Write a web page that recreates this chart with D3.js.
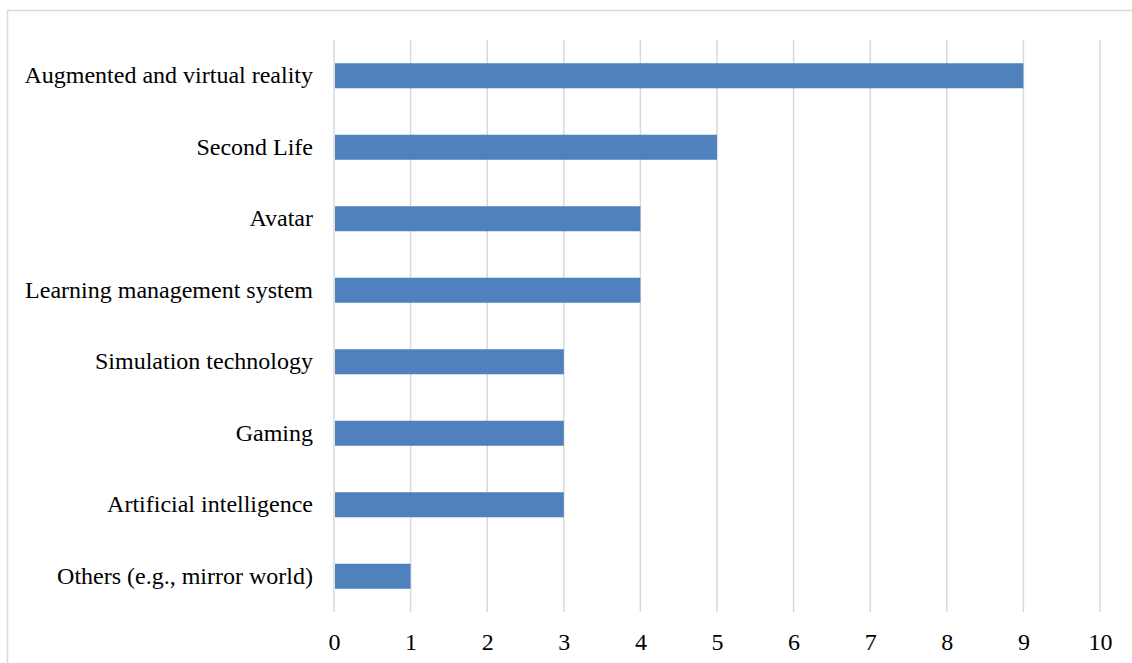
<!DOCTYPE html>
<html>
<head>
<meta charset="utf-8">
<script src="https://cdn.jsdelivr.net/npm/d3@7"></script>
<style>
  body { margin: 0; background: #fff; }
  svg text { fill: #000; }
</style>
</head>
<body>
<svg id="chart"></svg>
<script>
var categories = [
  "Augmented and virtual reality",
  "Second Life",
  "Avatar",
  "Learning management system",
  "Simulation technology",
  "Gaming",
  "Artificial intelligence",
  "Others (e.g., mirror world)"
];
var counts = [9, 5, 4, 4, 3, 3, 3, 1];
var ticks = [0, 1, 2, 3, 4, 5, 6, 7, 8, 9, 10];

var width = 1132;
var height = 663;
var margin = {top: 40, right: 32, bottom: 51, left: 334};
var fontFamily = "'Liberation Serif', 'Times New Roman', serif";
var fontSize = "24px";

var svg = d3.select("#chart")
  .attr("width", width)
  .attr("height", height);

// outer chart border
svg.append("rect")
  .attr("x", 7.5)
  .attr("y", 10.5)
  .attr("width", width + 20)
  .attr("height", height + 20)
  .attr("fill", "none")
  .attr("stroke", "#d9d9d9")
  .attr("stroke-width", 1.5);

var data = categories.map(function(c, i){
  return {name: c, value: counts[i]};
});

var xScale = d3.scaleLinear()
  .domain([0, 10])
  .range([margin.left, width - margin.right]);

var yScale = d3.scaleBand()
  .domain(categories)
  .range([margin.top, height - margin.bottom])
  .paddingInner(0.65)
  .paddingOuter(0.325);

// gridlines
svg.append("g")
  .selectAll("line")
  .data(ticks)
  .enter()
  .append("line")
  .attr("x1", function(d){ return xScale(d); })
  .attr("x2", function(d){ return xScale(d); })
  .attr("y1", margin.top)
  .attr("y2", height - margin.bottom)
  .attr("stroke", "#d9d9d9")
  .attr("stroke-width", 1.5);

// bars
svg.append("g")
  .selectAll("rect")
  .data(data)
  .enter()
  .append("rect")
  .attr("x", xScale(0) + 1)
  .attr("y", function(d){ return yScale(d.name); })
  .attr("width", function(d){ return xScale(d.value) - xScale(0) - 1; })
  .attr("height", yScale.bandwidth())
  .attr("fill", "#4f81bd");

// category labels
var yAxis = d3.axisLeft(yScale).tickSize(0).tickPadding(21);
svg.append("g")
  .attr("transform", "translate(" + margin.left + ",0)")
  .call(yAxis)
  .attr("font-family", fontFamily)
  .attr("font-size", fontSize)
  .call(function(g){ g.select(".domain").remove(); });

// x tick labels
var xAxis = d3.axisBottom(xScale).tickValues(ticks).tickSize(0).tickPadding(21);
svg.append("g")
  .attr("transform", "translate(0," + (height - margin.bottom) + ")")
  .call(xAxis)
  .attr("font-family", fontFamily)
  .attr("font-size", fontSize)
  .call(function(g){ g.select(".domain").remove(); });
</script>
</body>
</html>
